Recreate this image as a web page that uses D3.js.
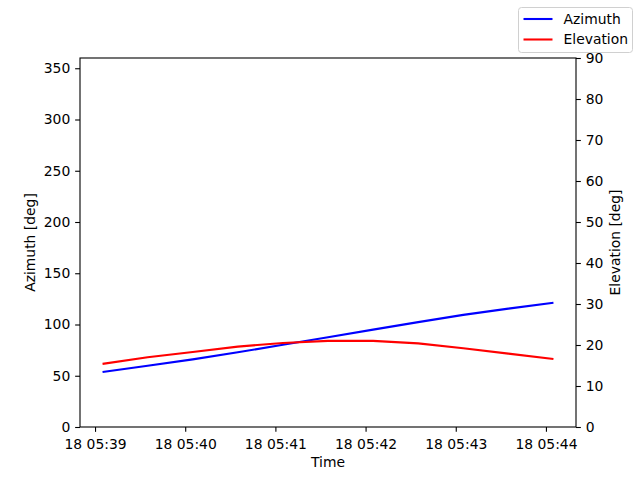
<!DOCTYPE html>
<html>
<head>
<meta charset="utf-8">
<script src="https://cdn.jsdelivr.net/npm/d3@7"></script>
<style>
body { margin: 0; background: #fff; }
text { font-family: "DejaVu Sans", sans-serif; }
</style>
</head>
<body>
<div id="chart"></div>
<script>
// samples every 30 s from 18 05:39:05
var startTime = Date.UTC(2023, 4, 18, 5, 39, 5);
var stepSeconds = 30;
var azimuth = [53.7, 59.7, 66.0, 72.9, 80.2, 87.6, 95.0, 102.3, 109.4, 115.5, 121.3];
var elevation = [15.4, 17.0, 18.3, 19.6, 20.5, 21.0, 21.0, 20.4, 19.2, 17.9, 16.6];
var azTicks = [0, 50, 100, 150, 200, 250, 300, 350];
var elTicks = [0, 10, 20, 30, 40, 50, 60, 70, 80, 90];
var seriesNames = ["Azimuth", "Elevation"];
var seriesColors = ["blue", "red"];

var W = 640, H = 480;
var margin = {top: 58, right: 64, bottom: 53, left: 80};
var width = W - margin.left - margin.right;
var height = H - margin.top - margin.bottom;
var fs = 13.9, tick = 4.86;

var times = azimuth.map(function(d, i) { return new Date(startTime + i * stepSeconds * 1000); });
var t0 = times[0].getTime(), t1 = times[times.length - 1].getTime();
var pad = (t1 - t0) * 0.05;

var xScale = d3.scaleUtc().domain([t0 - pad, t1 + pad]).range([0, width]);
var yLeft = d3.scaleLinear().domain([0, 360]).range([height, 0]);
var yRight = d3.scaleLinear().domain([0, 90]).range([height, 0]);

var svg = d3.select("#chart").append("svg")
    .attr("width", W).attr("height", H);
var g = svg.append("g")
    .attr("transform", "translate(" + margin.left + "," + margin.top + ")");

function styleAxis(sel) {
    sel.select(".domain").remove();
    sel.selectAll("text").style("font-size", fs + "px").attr("fill", "#000");
    sel.selectAll("line").attr("stroke", "#000").attr("stroke-width", 1.1);
}

var xaxis = d3.axisBottom(xScale)
    .ticks(d3.utcMinute.every(1))
    .tickFormat(d3.utcFormat("%d %H:%M"))
    .tickSizeInner(tick).tickSizeOuter(0).tickPadding(tick);
g.append("g").attr("transform", "translate(0," + height + ")").call(xaxis).call(styleAxis)
    .selectAll("text").attr("dy", "0.9em");

var yaxisL = d3.axisLeft(yLeft).tickValues(azTicks)
    .tickSizeInner(tick).tickSizeOuter(0).tickPadding(tick);
g.append("g").call(yaxisL).call(styleAxis);

var yaxisR = d3.axisRight(yRight).tickValues(elTicks)
    .tickSizeInner(tick).tickSizeOuter(0).tickPadding(tick);
g.append("g").attr("transform", "translate(" + width + ",0)").call(yaxisR).call(styleAxis);

// lines
var lineAz = d3.line()
    .x(function(d, i) { return xScale(times[i]); })
    .y(function(d) { return yLeft(d); });
var lineEl = d3.line()
    .x(function(d, i) { return xScale(times[i]); })
    .y(function(d) { return yRight(d); });

g.append("path").datum(azimuth).attr("d", lineAz)
    .attr("fill", "none").attr("stroke", seriesColors[0]).attr("stroke-width", 2.08);
g.append("path").datum(elevation).attr("d", lineEl)
    .attr("fill", "none").attr("stroke", seriesColors[1]).attr("stroke-width", 2.08);

// frame
g.append("rect").attr("width", width).attr("height", height)
    .attr("fill", "none").attr("stroke", "#000").attr("stroke-width", 1.1);

// axis labels
svg.append("text").attr("x", margin.left + width / 2).attr("y", 467)
    .attr("text-anchor", "middle").style("font-size", fs + "px").text("Time");
svg.append("text")
    .attr("transform", "translate(35," + (margin.top + height / 2) + ") rotate(-90)")
    .attr("text-anchor", "middle").style("font-size", fs + "px").text("Azimuth [deg]");
svg.append("text")
    .attr("transform", "translate(620," + (margin.top + height / 2) + ") rotate(-90)")
    .attr("text-anchor", "middle").style("font-size", fs + "px").text("Elevation [deg]");

// legend
var leg = svg.append("g").attr("transform", "translate(518.5,7.5)");
leg.append("rect").attr("width", 114).attr("height", 45).attr("rx", 3)
    .attr("fill", "#fff").attr("fill-opacity", 0.8)
    .attr("stroke", "#d0d0d0").attr("stroke-width", 1);
seriesNames.forEach(function(name, i) {
    var yy = 11.5 + i * 20.5;
    leg.append("line").attr("x1", 5).attr("x2", 34).attr("y1", yy).attr("y2", yy)
        .attr("stroke", seriesColors[i]).attr("stroke-width", 2.08);
    leg.append("text").attr("x", 45).attr("y", yy).attr("dy", "0.35em")
        .style("font-size", fs + "px").text(name);
});
</script>
</body>
</html>
